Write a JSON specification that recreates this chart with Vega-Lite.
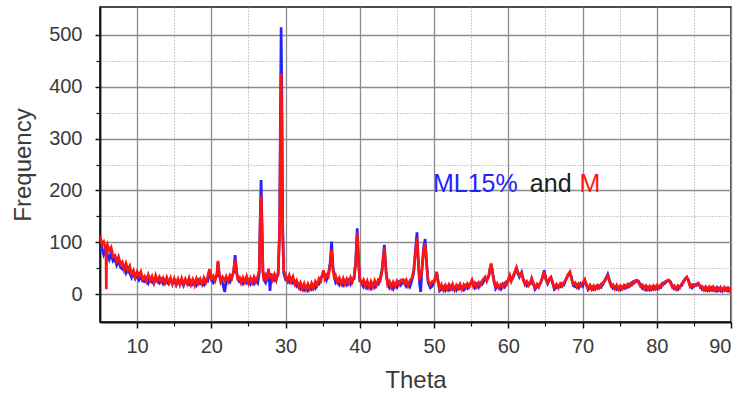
{
"$schema":"https://vega.github.io/schema/vega-lite/v6.json",
"width":631,"height":315,
"autosize":{"type":"none"},
"padding":{"left":100,"top":7,"right":14,"bottom":76},
"background":"white",
"config":{"view":{"stroke":"#111111","strokeWidth":1.5},"font":"Liberation Sans"},
"resolve":{"axis":{"x":"independent","y":"independent"}},
"layer":[
{"data":{"values":[{"t":"ML15%","x":49.85,"y":196,"s":"b"},{"t":"and","x":62.9,"y":196,"s":"k"},{"t":"M","x":69.6,"y":196,"s":"r"}]},
"mark":{"type":"text","align":"left","baseline":"alphabetic","fontSize":25,"font":"Liberation Sans"},
"encoding":{
"x":{"field":"x","type":"quantitative","scale":{"domain":[5,90]},"axis":{"orient":"bottom","values":[15,25,35,45,55,65,75,85],"labels":false,"domain":false,"ticks":true,"tickSize":4,"tickColor":"#111111","tickWidth":1.2,"grid":true,"gridDash":[1,2],"gridColor":"#9a9a9a","gridWidth":1,"title":null}},
"y":{"field":"y","type":"quantitative","scale":{"domain":[-54,554]},"axis":{"orient":"left","values":[50,150,250,350,450],"labels":false,"domain":false,"ticks":true,"tickSize":4,"tickColor":"#111111","tickWidth":1.2,"grid":true,"gridDash":[1,2],"gridColor":"#9a9a9a","gridWidth":1,"title":null}},
"text":{"field":"t"},
"color":{"field":"s","type":"nominal","scale":{"domain":["b","r","k"],"range":["#2323ff","#ff1414","#222222"]},"legend":null}
}},
{"data":{"values":[
{"x":5,"b":85,"r":113},{"x":5.25,"b":90,"r":96},{"x":5.5,"b":76,"r":101},{"x":5.75,"b":86,"r":86},{"x":5.8,"b":85,"r":92},{"x":5.85,"b":84,"r":9},{"x":5.9,"b":83,"r":88},{"x":6,"b":77,"r":95},{"x":6.25,"b":67,"r":84},{"x":6.5,"b":79,"r":90},{"x":6.75,"b":64,"r":73},{"x":7,"b":68,"r":75},{"x":7.25,"b":56,"r":63},{"x":7.5,"b":64,"r":72},{"x":7.75,"b":52,"r":58},{"x":8,"b":48,"r":62},{"x":8.25,"b":53,"r":47},{"x":8.5,"b":41,"r":59},{"x":8.75,"b":49,"r":46},{"x":9,"b":40,"r":54},{"x":9.25,"b":32,"r":38},{"x":9.5,"b":43,"r":45},{"x":9.75,"b":30,"r":32},{"x":10,"b":34,"r":43},{"x":10.25,"b":27,"r":35},{"x":10.5,"b":34,"r":43},{"x":10.75,"b":25,"r":29},{"x":11,"b":24,"r":34},{"x":11.25,"b":30,"r":25},{"x":11.5,"b":21,"r":37},{"x":11.75,"b":30,"r":26},{"x":12,"b":23,"r":34},
{"x":12.25,"b":20,"r":22},{"x":12.5,"b":30,"r":36},{"x":12.75,"b":24,"r":25},{"x":13,"b":21,"r":33},{"x":13.25,"b":28,"r":24},{"x":13.5,"b":20,"r":31},{"x":13.75,"b":27,"r":21},{"x":14,"b":22,"r":32},{"x":14.25,"b":19,"r":22},{"x":14.5,"b":27,"r":31},{"x":14.75,"b":21,"r":19},{"x":15,"b":25,"r":30},{"x":15.25,"b":17,"r":20},{"x":15.5,"b":27,"r":29},{"x":15.75,"b":20,"r":18},{"x":16,"b":24,"r":30},{"x":16.25,"b":16,"r":19},{"x":16.5,"b":26,"r":29},{"x":16.75,"b":21,"r":20},{"x":17,"b":18,"r":31},{"x":17.25,"b":25,"r":18},{"x":17.5,"b":19,"r":28},{"x":17.75,"b":24,"r":17},{"x":18,"b":17,"r":30},{"x":18.25,"b":26,"r":21},{"x":18.5,"b":20,"r":29},{"x":18.75,"b":23,"r":19},{"x":19,"b":18,"r":31},{"x":19.25,"b":27,"r":22},{"x":19.5,"b":25,"r":33},{"x":19.75,"b":45,"r":48},{"x":20,"b":27,"r":30},
{"x":20.25,"b":22,"r":35},{"x":20.5,"b":29,"r":26},{"x":20.75,"b":35,"r":40},{"x":20.9,"b":62,"r":64},{"x":21.05,"b":38,"r":40},{"x":21.25,"b":28,"r":24},{"x":21.5,"b":22,"r":33},{"x":21.8,"b":4,"r":26},{"x":22,"b":25,"r":34},{"x":22.25,"b":27,"r":24},{"x":22.5,"b":23,"r":36},{"x":22.75,"b":33,"r":30},{"x":23,"b":42,"r":45},{"x":23.2,"b":75,"r":68},{"x":23.4,"b":44,"r":40},{"x":23.6,"b":28,"r":26},{"x":23.75,"b":24,"r":35},{"x":24,"b":27,"r":22},{"x":24.25,"b":20,"r":32},{"x":24.5,"b":26,"r":23},{"x":24.75,"b":21,"r":34},{"x":25,"b":24,"r":21},{"x":25.25,"b":19,"r":31},{"x":25.5,"b":27,"r":22},{"x":25.75,"b":20,"r":33},{"x":26,"b":28,"r":24},{"x":26.25,"b":22,"r":34},{"x":26.45,"b":40,"r":45},{"x":26.6,"b":160,"r":150},{"x":26.7,"b":220,"r":190},{"x":26.8,"b":150,"r":140},{"x":26.95,"b":42,"r":45},
{"x":27.1,"b":27,"r":25},{"x":27.3,"b":22,"r":36},{"x":27.5,"b":33,"r":30},{"x":27.7,"b":45,"r":49},{"x":27.8,"b":30,"r":35},{"x":27.9,"b":6,"r":30},{"x":28.05,"b":33,"r":40},{"x":28.25,"b":31,"r":28},{"x":28.5,"b":26,"r":38},{"x":28.75,"b":30,"r":27},{"x":29,"b":38,"r":42},{"x":29.2,"b":130,"r":120},{"x":29.3,"b":340,"r":300},{"x":29.4,"b":515,"r":426},{"x":29.5,"b":380,"r":330},{"x":29.6,"b":140,"r":120},{"x":29.75,"b":40,"r":45},{"x":30,"b":28,"r":34},
{"x":30.25,"b":31,"r":25},{"x":30.5,"b":23,"r":36},{"x":30.75,"b":29,"r":24},{"x":31,"b":21,"r":33},{"x":31.25,"b":24,"r":19},{"x":31.5,"b":15,"r":26},{"x":31.75,"b":19,"r":14},{"x":32,"b":10,"r":22},{"x":32.25,"b":15,"r":10},{"x":32.5,"b":8,"r":20},{"x":32.75,"b":14,"r":9},{"x":33,"b":7,"r":19},{"x":33.25,"b":13,"r":10},{"x":33.5,"b":9,"r":21},{"x":33.75,"b":16,"r":12},{"x":34,"b":11,"r":24},{"x":34.25,"b":20,"r":17},{"x":34.5,"b":19,"r":30},{"x":34.75,"b":31,"r":25},{"x":35.1,"b":40,"r":46},{"x":35.3,"b":33,"r":30},{"x":35.5,"b":27,"r":37},{"x":35.75,"b":38,"r":33},{"x":36,"b":60,"r":55},{"x":36.2,"b":101,"r":85},{"x":36.4,"b":50,"r":45},{"x":36.6,"b":31,"r":28},{"x":36.75,"b":22,"r":35},{"x":37,"b":27,"r":23},{"x":37.25,"b":18,"r":31},{"x":37.5,"b":24,"r":20},{"x":37.75,"b":17,"r":30},{"x":38,"b":25,"r":19},{"x":38.25,"b":18,"r":29},{"x":38.5,"b":26,"r":21},{"x":38.75,"b":19,"r":32},{"x":39,"b":28,"r":24},{"x":39.25,"b":30,"r":36},{"x":39.45,"b":65,"r":60},{"x":39.65,"b":127,"r":118},{"x":39.85,"b":58,"r":55},{"x":40,"b":25,"r":30},
{"x":40.25,"b":24,"r":20},{"x":40.5,"b":14,"r":27},{"x":40.75,"b":20,"r":15},{"x":41,"b":12,"r":25},{"x":41.25,"b":18,"r":13},{"x":41.5,"b":11,"r":24},{"x":41.75,"b":19,"r":14},{"x":42,"b":13,"r":26},{"x":42.25,"b":21,"r":17},{"x":42.5,"b":19,"r":28},{"x":42.75,"b":30,"r":26},{"x":43,"b":48,"r":45},{"x":43.3,"b":95,"r":90},{"x":43.55,"b":42,"r":40},{"x":43.75,"b":20,"r":18},{"x":44,"b":12,"r":24},{"x":44.25,"b":18,"r":13},{"x":44.5,"b":10,"r":23},{"x":44.75,"b":19,"r":15},{"x":45,"b":13,"r":25},{"x":45.25,"b":22,"r":18},{"x":45.5,"b":17,"r":27},{"x":45.8,"b":24,"r":28},{"x":46,"b":25,"r":20},{"x":46.25,"b":15,"r":27},{"x":46.5,"b":20,"r":16},{"x":46.75,"b":14,"r":26},{"x":47,"b":26,"r":30},{"x":47.25,"b":40,"r":45},{"x":47.5,"b":85,"r":80},{"x":47.7,"b":119,"r":108},{"x":47.9,"b":55,"r":60},{"x":48.05,"b":20,"r":30},{"x":48.2,"b":4,"r":32},{"x":48.4,"b":55,"r":50},{"x":48.6,"b":90,"r":85},{"x":48.8,"b":106,"r":98},{"x":49,"b":60,"r":55},{"x":49.2,"b":22,"r":25},{"x":49.5,"b":12,"r":18},{"x":49.75,"b":15,"r":24},{"x":50,"b":26,"r":22},{"x":50.2,"b":30,"r":32},{"x":50.35,"b":41,"r":43},{"x":50.55,"b":25,"r":22},{"x":50.75,"b":6,"r":10},
{"x":51,"b":9,"r":18},{"x":51.25,"b":13,"r":8},{"x":51.5,"b":7,"r":17},{"x":51.75,"b":14,"r":9},{"x":52,"b":8,"r":18},{"x":52.25,"b":15,"r":10},{"x":52.5,"b":9,"r":19},{"x":52.75,"b":12,"r":8},{"x":53,"b":7,"r":17},{"x":53.25,"b":15,"r":11},{"x":53.5,"b":10,"r":19},{"x":53.75,"b":13,"r":9},{"x":54,"b":8,"r":18},{"x":54.25,"b":16,"r":12},{"x":54.5,"b":11,"r":20},{"x":54.75,"b":17,"r":14},{"x":55.1,"b":25,"r":27},{"x":55.3,"b":18,"r":15},{"x":55.5,"b":12,"r":21},{"x":55.75,"b":19,"r":14},{"x":56,"b":13,"r":22},{"x":56.25,"b":22,"r":17},{"x":56.5,"b":19,"r":26},{"x":56.9,"b":30,"r":33},{"x":57.1,"b":28,"r":25},{"x":57.35,"b":33,"r":35},{"x":57.55,"b":48,"r":50},{"x":57.7,"b":58,"r":59},{"x":57.9,"b":40,"r":38},{"x":58.1,"b":25,"r":22},{"x":58.3,"b":10,"r":15},{"x":58.5,"b":14,"r":20},{"x":58.75,"b":16,"r":11},{"x":59,"b":10,"r":18},{"x":59.25,"b":19,"r":13},{"x":59.5,"b":14,"r":21},{"x":59.75,"b":24,"r":18},{"x":60,"b":25,"r":28},{"x":60.2,"b":34,"r":36},{"x":60.4,"b":28,"r":25},{"x":60.6,"b":30,"r":33},{"x":60.85,"b":40,"r":42},{"x":61.1,"b":49,"r":51},{"x":61.3,"b":42,"r":38},{"x":61.5,"b":33,"r":35},{"x":61.8,"b":42,"r":40},{"x":62,"b":30,"r":28},{"x":62.25,"b":22,"r":18},{"x":62.5,"b":16,"r":24},{"x":62.75,"b":21,"r":17},{"x":63,"b":20,"r":24},{"x":63.15,"b":29,"r":30},{"x":63.35,"b":22,"r":20},{"x":63.6,"b":9,"r":12},{"x":63.85,"b":14,"r":19},{"x":64.1,"b":18,"r":13},{"x":64.4,"b":22,"r":24},{"x":64.65,"b":35,"r":33},{"x":64.85,"b":46,"r":44},{"x":65.05,"b":30,"r":28},{"x":65.3,"b":20,"r":22},{"x":65.55,"b":28,"r":30},{"x":65.75,"b":31,"r":33},{"x":65.95,"b":24,"r":21},{"x":66.2,"b":9,"r":12},{"x":66.5,"b":13,"r":19},{"x":66.75,"b":16,"r":12},{"x":67,"b":14,"r":20},{"x":67.25,"b":20,"r":15},{"x":67.5,"b":18,"r":23},{"x":67.8,"b":30,"r":28},{"x":68.05,"b":36,"r":38},{"x":68.3,"b":41,"r":43},{"x":68.5,"b":33,"r":30},{"x":68.75,"b":16,"r":19},{"x":69,"b":14,"r":22},{"x":69.25,"b":18,"r":13},{"x":69.5,"b":12,"r":20},{"x":69.75,"b":20,"r":16},{"x":70,"b":15,"r":21},{"x":70.3,"b":26,"r":28},{"x":70.5,"b":20,"r":17},{"x":70.75,"b":8,"r":10},
{"x":71,"b":11,"r":17},{"x":71.25,"b":14,"r":9},{"x":71.5,"b":9,"r":16},{"x":71.75,"b":14,"r":10},{"x":72,"b":11,"r":17},{"x":72.25,"b":16,"r":12},{"x":72.5,"b":13,"r":19},{"x":72.75,"b":22,"r":18},{"x":73,"b":25,"r":27},{"x":73.2,"b":31,"r":33},{"x":73.4,"b":38,"r":36},{"x":73.6,"b":28,"r":25},{"x":73.85,"b":18,"r":15},{"x":74.1,"b":11,"r":18},{"x":74.35,"b":14,"r":10},{"x":74.6,"b":9,"r":17},{"x":74.85,"b":13,"r":9},{"x":75.1,"b":8,"r":16},{"x":75.35,"b":14,"r":10},{"x":75.6,"b":11,"r":17},{"x":75.85,"b":16,"r":12},{"x":76.1,"b":13,"r":19},{"x":76.35,"b":19,"r":15},{"x":76.6,"b":17,"r":22},{"x":76.85,"b":24,"r":20},{"x":77.1,"b":23,"r":26},{"x":77.3,"b":26,"r":27},{"x":77.55,"b":25,"r":22},{"x":77.8,"b":18,"r":15},{"x":78.05,"b":11,"r":18},{"x":78.3,"b":14,"r":10},{"x":78.55,"b":8,"r":16},{"x":78.8,"b":13,"r":9},{"x":79.05,"b":8,"r":15},{"x":79.3,"b":13,"r":9},{"x":79.55,"b":9,"r":16},{"x":79.8,"b":14,"r":10},{"x":80.05,"b":10,"r":17},{"x":80.3,"b":15,"r":11},{"x":80.55,"b":13,"r":18},{"x":80.8,"b":21,"r":17},{"x":81.05,"b":20,"r":23},{"x":81.3,"b":24,"r":25},{"x":81.6,"b":26,"r":27},{"x":81.85,"b":24,"r":21},{"x":82.1,"b":15,"r":13},{"x":82.35,"b":10,"r":16},{"x":82.6,"b":13,"r":9},{"x":82.85,"b":9,"r":16},{"x":83.1,"b":15,"r":12},{"x":83.35,"b":16,"r":20},{"x":83.6,"b":25,"r":22},{"x":83.85,"b":29,"r":30},{"x":84.05,"b":32,"r":33},{"x":84.25,"b":28,"r":25},{"x":84.5,"b":17,"r":14},{"x":84.75,"b":12,"r":18},{"x":85,"b":18,"r":14},{"x":85.3,"b":16,"r":19},{"x":85.6,"b":20,"r":21},{"x":85.85,"b":16,"r":13},{"x":86.1,"b":9,"r":15},{"x":86.35,"b":12,"r":8},{"x":86.6,"b":7,"r":14},{"x":86.85,"b":11,"r":7},{"x":87.1,"b":7,"r":14},{"x":87.35,"b":12,"r":8},{"x":87.6,"b":7,"r":14},{"x":87.85,"b":11,"r":7},{"x":88.1,"b":6,"r":13},{"x":88.35,"b":11,"r":7},{"x":88.6,"b":6,"r":13},{"x":88.85,"b":10,"r":6},{"x":89.1,"b":7,"r":13},{"x":89.35,"b":11,"r":7},{"x":89.6,"b":6,"r":12},{"x":89.85,"b":10,"r":6},{"x":90,"b":8,"r":11}
]},
"transform":[{"fold":["b","r"],"as":["s","v"]}],
"mark":{"type":"line","strokeWidth":2.7,"clip":true},
"encoding":{
"x":{"field":"x","type":"quantitative","scale":{"domain":[5,90]},"axis":{"orient":"bottom","values":[10,20,30,40,50,60,70,80,90],"domainColor":"#111111","domainWidth":1.8,"tickColor":"#111111","tickWidth":1.5,"tickSize":6,"grid":true,"gridColor":"#8c8c8c","gridWidth":1.3,"labelFont":"Liberation Sans","labelFontSize":20,"labelColor":"#3a3a3a","labelPadding":8,"title":"Theta","titleFont":"Liberation Sans","titleFontSize":24,"titleFontWeight":"normal","titleColor":"#3a3a3a","titlePadding":12}},
"y":{"field":"v","type":"quantitative","scale":{"domain":[-54,554]},"axis":{"orient":"left","values":[0,100,200,300,400,500],"domainColor":"#111111","domainWidth":1.8,"tickColor":"#111111","tickWidth":1.5,"tickSize":5,"grid":true,"gridColor":"#8c8c8c","gridWidth":1.3,"labelFont":"Liberation Sans","labelFontSize":20,"labelColor":"#3a3a3a","labelPadding":13,"title":"Frequency","titleFont":"Liberation Sans","titleFontSize":24,"titleFontWeight":"normal","titleColor":"#3a3a3a","titlePadding":13}},
"color":{"field":"s","type":"nominal","scale":{"domain":["b","r","k"],"range":["#2323ff","#ff1414","#222222"]},"legend":null}
}}
]
}
